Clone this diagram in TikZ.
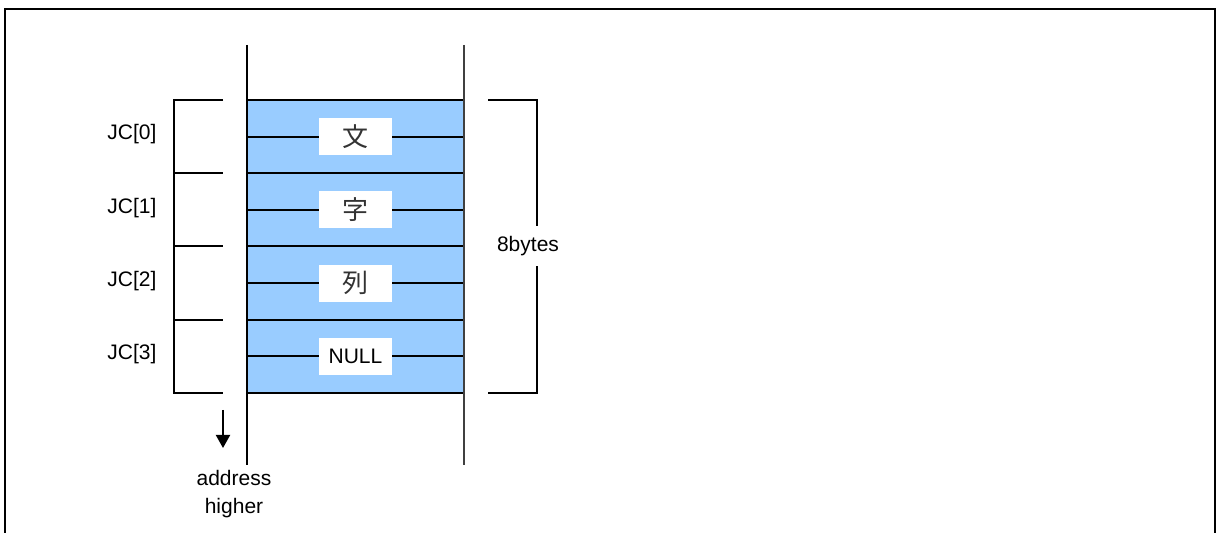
\documentclass[tikz,border=0pt]{standalone}
\usepackage{fontspec}
\setmainfont{Liberation Sans}
\newfontfamily\cjk{Noto Sans CJK JP}
\usetikzlibrary{arrows.meta}
\definecolor{memblue}{HTML}{99CCFF}
\newcommand{\kanji}[1]{{\cjk\fontsize{13}{13}\selectfont\color{black!80}#1}}
\begin{document}
\begin{tikzpicture}[
        x=0.5pt, y=-0.5pt,
        font=\fontsize{10.5}{14}\selectfont,
        line width=1pt,
        cellbox/.style={fill=white, minimum width=36.5pt, minimum height=18.5pt, inner sep=0pt},
        jclabel/.style={inner sep=0pt},
        arrow/.style={-{Triangle[width=7pt, length=6.5pt]}, line width=1pt}
    ]
        \useasboundingbox (0,0) rectangle (1219,533);

        % Marco
        \draw (4.5,533) |- (1215,9) -- (1215,533);

        % Memoria
        \fill[memblue] (247,100) rectangle (464,393);
        \foreach \k in {0,...,8}
            \draw (247,{100+36.625*\k}) -- (464,{100+36.625*\k});
        \draw (247,45) -- (247,465);
        \draw[line width=0.8pt, black!75] (464,45) -- (464,465);

        % Contenido
        \foreach \i/\t in {0/\kanji{文},1/\kanji{字},2/\kanji{列},3/NULL}
            \node[cellbox] (c\i) at (355.5,{136.6+73.25*\i}) {\t};

        % Indices
        \draw (223,100) -| (174,393) -- (223,393);
        \foreach \i in {1,2,3}
            \draw (174,{100+73.25*\i}) -- (223,{100+73.25*\i});
        \foreach \i in {0,...,3}
            \node[jclabel] (jc\i) at (132,{134.5+73.25*\i}) {JC[\i]};

        % Tamano
        \coordinate (btop) at (488,100);
        \coordinate (bbot) at (488,393);
        \node[minimum height=19pt, inner sep=0pt] (bytes) at (528,246) {8bytes};
        \draw (btop) -| ([xshift=4.5pt]bytes.north);
        \draw (bbot) -| ([xshift=4.5pt]bytes.south);

        % Direccion
        \coordinate (a0) at (223,410);
        \coordinate (a1) at (223,448);
        \draw[arrow] (a0) -- (a1);
        \node[align=center, inner sep=0pt] (addr) at (234,494) {address\\higher};

    \end{tikzpicture}
\end{document}
